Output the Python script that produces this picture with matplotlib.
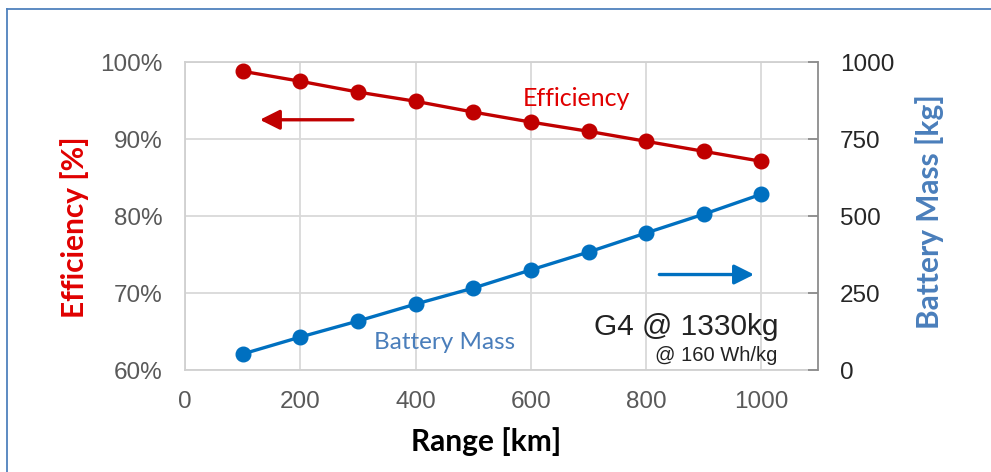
import matplotlib.pyplot as plt
from matplotlib.lines import Line2D

range_km = [100, 200, 300, 400, 500, 600, 700, 800, 900, 1000]
efficiency = [98.8, 97.5, 96.1, 94.9, 93.5, 92.2, 91.0, 89.7, 88.4, 87.1]
battery_mass = [52, 107, 159, 214, 266, 325, 383, 445, 506, 571]

x_ticks = [0, 200, 400, 600, 800, 1000]
eff_ticks = [60, 70, 80, 90, 100]
mass_ticks = [0, 250, 500, 750, 1000]

red = '#c00000'
blue = '#0070c0'
tick_font = 'Liberation Sans'
label_font = 'Lato'

fig = plt.figure(figsize=(9.91, 4.72), dpi=100, facecolor='white')
ax = fig.add_axes([0.1867, 0.2161, 0.6387, 0.6525])
ax2 = ax.twinx()

ax.plot(range_km, efficiency, color=red, lw=2.4, marker='o', ms=10.5, zorder=3)
ax2.plot(range_km, battery_mass, color=blue, lw=2.4, marker='o', ms=10.5, zorder=3)

ax.set_xlim(0, 1098)
ax.set_ylim(60, 100)
ax2.set_ylim(0, 1000)
ax.set_xticks(x_ticks)
ax.set_yticks(eff_ticks)
ax.set_yticklabels([f'{v}%' for v in eff_ticks])
ax2.set_yticks(mass_ticks)

ax.grid(True, color='#d9d9d9', lw=1.3)
ax.set_axisbelow(True)
for s in ['top', 'left', 'bottom']:
    ax.spines[s].set_color('#d0d0d0')
    ax.spines[s].set_linewidth(1.3)
    ax2.spines[s].set_visible(False)
ax.spines['right'].set_visible(False)
ax2.spines['right'].set_color('#8c8c8c')
ax2.spines['right'].set_linewidth(1.3)

ax.tick_params(axis='both', length=0, labelsize=17.5, labelcolor='#595959')
ax.tick_params(axis='y', pad=16)
ax.tick_params(axis='x', pad=15)
ax2.tick_params(axis='y', direction='in', length=7, color='#8c8c8c', width=1.3,
                labelsize=17.5, labelcolor='#262626', pad=16)
for lab in ax.get_xticklabels() + ax.get_yticklabels() + ax2.get_yticklabels():
    lab.set_fontfamily(tick_font)

ax.set_ylabel('Efficiency [%]', color='#e00000', fontsize=21.5, fontweight='bold',
              family=label_font)
ax2.set_ylabel('Battery Mass [kg]', color='#4a7ebb', fontsize=21.5, fontweight='bold',
               family=label_font)
ax.set_xlabel('Range [km]', color='black', fontsize=21.5, fontweight='bold',
              family=label_font)
ax.yaxis.set_label_coords(-0.152, 0.464)
ax2.yaxis.set_label_coords(1.153, 0.513)
ax.xaxis.set_label_coords(0.476, -0.185)

ax.text(586, 95.2, 'Efficiency', color='#e00000', fontsize=18, family=label_font,
        va='center', ha='left')
ax.text(328, 63.6, 'Battery Mass', color='#4a7ebb', fontsize=17.5, family=label_font,
        va='center', ha='left')

ax.annotate('', xy=(125, 92.5), xytext=(296, 92.5),
            arrowprops=dict(arrowstyle='-|>', color=red, lw=2.4, mutation_scale=30))
ax2.annotate('', xy=(992, 310), xytext=(818, 310),
             arrowprops=dict(arrowstyle='-|>', color=blue, lw=2.4, mutation_scale=30))

ax.text(1029, 65.6, 'G4 @ 1330kg', color='#222222', fontsize=21.5, family=tick_font,
        ha='right', va='center')
ax.text(1027, 61.9, '@ 160 Wh/kg', color='#222222', fontsize=14.5, family=tick_font,
        ha='right', va='center')

# outer frame
fig.add_artist(Line2D([0.0075, 1.0], [0.981, 0.981], color='#4f81bd', lw=1.3))
fig.add_artist(Line2D([0.0075, 0.0075], [0.0, 0.981], color='#4f81bd', lw=1.3))

fig.savefig('out.png', dpi=100, facecolor='white')
